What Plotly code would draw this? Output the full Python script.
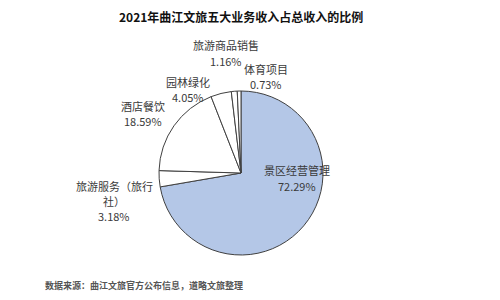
import plotly.graph_objects as go

categories = ["景区经营管理", "旅游服务（旅行社）", "酒店餐饮", "园林绿化", "旅游商品销售", "体育项目"]
values = [72.29, 3.18, 18.59, 4.05, 1.16, 0.73]
label_lines = [["景区经营管理", "72.29%"], ["旅游服务（旅行", "社）", "3.18%"], ["酒店餐饮", "18.59%"],
               ["园林绿化", "4.05%"], ["旅游商品销售", "1.16%"], ["体育项目", "0.73%"]]
label_px = [(297, [170, 186]), (114, [186, 201, 216]), (143, [106, 121]),
            (188, [82, 97]), (226, [45, 61]), (266, [69, 84])]
colors = ["#B4C7E7", "#FFFFFF", "#FFFFFF", "#FFFFFF", "#FFFFFF", "#FFFFFF"]

W, H = 500, 300
cx, cy, r = 241, 173, 82

fig = go.Figure(go.Pie(
    labels=categories, values=values, sort=False, direction="clockwise", rotation=0,
    marker=dict(colors=colors, line=dict(color="#404040", width=1)),
    textinfo="none", hoverinfo="label+percent", showlegend=False,
    domain=dict(x=[(cx - r) / W, (cx + r) / W], y=[1 - (cy + r) / H, 1 - (cy - r) / H]),
))

FONT = "Noto Sans CJK SC"
anns = []
for lines, (px, ys) in zip(label_lines, label_px):
    for t, py in zip(lines, ys):
        anns.append(dict(x=px / W, y=1 - py / H, xref="paper", yref="paper", text=t, showarrow=False,
                         xanchor="center", yanchor="middle", align="center",
                         font=dict(family=FONT, size=11, color="#3a3a3a")))
anns.append(dict(x=241 / W, y=1 - 16 / H, xref="paper", yref="paper",
                 text="<b>2021年曲江文旅五大业务收入占总收入的比例</b>", showarrow=False,
                 xanchor="center", yanchor="middle", font=dict(family=FONT, size=12, color="#111111")))
anns.append(dict(x=43 / W, y=1 - 285 / H, xref="paper", yref="paper",
                 text="<b>数据来源：曲江文旅官方公布信息，道略文旅整理</b>", showarrow=False,
                 xanchor="left", yanchor="middle", font=dict(family=FONT, size=9, color="#555555")))

fig.update_layout(width=W, height=H, margin=dict(l=0, r=0, t=0, b=0),
                  paper_bgcolor="white", plot_bgcolor="white", annotations=anns)
fig.write_html("out.html")
